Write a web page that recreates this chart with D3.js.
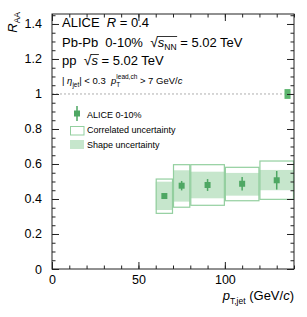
<!DOCTYPE html>
<html><head><meta charset="utf-8">
<script src="https://cdn.jsdelivr.net/npm/d3@7"></script>
<style>
body{margin:0;background:#fff;}
text{font-family:"Liberation Sans",Arial,Helvetica,sans-serif;fill:#000;}
</style></head>
<body><svg id="c" width="307" height="317"></svg>
<script>
// ---- data ----
const binLow   = [60, 70, 80, 100, 120];
const binHigh  = [70, 80, 100, 120, 140];
const raa      = [0.417, 0.476, 0.480, 0.487, 0.507];
const statErr  = [0.010, 0.027, 0.034, 0.038, 0.053];
const corrLow  = [0.318, 0.353, 0.364, 0.390, 0.398];
const corrHigh = [0.514, 0.596, 0.596, 0.581, 0.617];
const shapeLow = [0.337, 0.385, 0.404, 0.419, 0.450];
const shapeHigh= [0.499, 0.564, 0.556, 0.549, 0.566];
const normBox  = {x0: 134.5, x1: 138, lo: 0.972, hi: 1.028};
const xTicks = [0, 50, 100];
const yTicks = [0, 0.2, 0.4, 0.6, 0.8, 1, 1.2, 1.4];
const yTickLabels = ["0", "0.2", "0.4", "0.6", "0.8", "1", "1.2", "1.4"];

const cMarker = "#4ea763", cCorr = "#93cf9f", cShape = "#c6e6cc", cNorm = "#5cb56e";

const svg = d3.select("#c");
const L = 52, R = 294, T = 14, B = 269;
const x = d3.scaleLinear().domain([0, 140]).range([L, R]);
const y = d3.scaleLinear().domain([0, 1.457]).range([B, T]);

// shape uncertainty
const idx = d3.range(raa.length);
svg.append("g").selectAll("rect").data(idx).join("rect")
  .attr("x", i => x(binLow[i])).attr("width", i => x(binHigh[i]) - x(binLow[i]))
  .attr("y", i => y(shapeHigh[i])).attr("height", i => y(shapeLow[i]) - y(shapeHigh[i]))
  .attr("fill", cShape);
// correlated uncertainty
svg.append("g").selectAll("rect").data(idx).join("rect")
  .attr("x", i => x(binLow[i]) + 0.5).attr("width", i => x(binHigh[i]) - x(binLow[i]) - 1)
  .attr("y", i => y(corrHigh[i])).attr("height", i => y(corrLow[i]) - y(corrHigh[i]))
  .attr("fill", "none").attr("stroke", cCorr).attr("stroke-width", 1.2);

// dashed line at 1
svg.append("line").attr("x1", x(0)).attr("x2", x(normBox.x0)).attr("y1", y(1)).attr("y2", y(1))
  .attr("stroke", "#999").attr("stroke-width", 0.8).attr("stroke-dasharray", "2,2");
// normalisation box
svg.append("rect").attr("x", x(normBox.x0)).attr("width", x(normBox.x1) - x(normBox.x0))
  .attr("y", y(normBox.hi)).attr("height", y(normBox.lo) - y(normBox.hi)).attr("fill", cNorm);

// stat errors + markers
const mid = i => (binLow[i] + binHigh[i]) / 2;
svg.append("g").selectAll("line").data(idx).join("line")
  .attr("x1", i => x(mid(i))).attr("x2", i => x(mid(i)))
  .attr("y1", i => y(raa[i] - statErr[i])).attr("y2", i => y(raa[i] + statErr[i]))
  .attr("stroke", cMarker).attr("stroke-width", 1.5);
svg.append("g").selectAll("rect").data(idx).join("rect")
  .attr("x", i => x(mid(i)) - 3).attr("y", i => y(raa[i]) - 3)
  .attr("width", 6).attr("height", 6).attr("fill", cMarker);

// axes
const axCol = "#222";
function styleAxis(g){ g.select(".domain").remove(); g.selectAll("line").attr("stroke", axCol).attr("stroke-width", 1); g.selectAll("text").attr("font-size", 12.5).attr("font-family", "Liberation Sans, Arial, sans-serif").attr("fill", "#000"); }
const xMinor = d3.range(0, 141, 10), yMinor = d3.range(0, 1.451, 0.05);
// bottom
svg.append("g").attr("transform", `translate(0,${B})`)
  .call(d3.axisBottom(x).tickValues(xMinor).tickSize(-3.5).tickFormat("")).call(styleAxis);
svg.append("g").attr("transform", `translate(0,${B})`)
  .call(d3.axisBottom(x).tickValues(xTicks).tickSize(-7).tickPadding(6).tickFormat(d3.format("d"))).call(styleAxis);
// top
svg.append("g").attr("transform", `translate(0,${T})`)
  .call(d3.axisTop(x).tickValues(xMinor).tickSize(-3.5).tickFormat("")).call(styleAxis);
svg.append("g").attr("transform", `translate(0,${T})`)
  .call(d3.axisTop(x).tickValues(xTicks).tickSize(-7).tickFormat("")).call(styleAxis);
// left
svg.append("g").attr("transform", `translate(${L},0)`)
  .call(d3.axisLeft(y).tickValues(yMinor).tickSize(-3.5).tickFormat("")).call(styleAxis);
svg.append("g").attr("transform", `translate(${L},0)`)
  .call(d3.axisLeft(y).tickValues(yTicks).tickSize(-7).tickPadding(10).tickFormat((d, i) => yTickLabels[i])).call(styleAxis);
// right
svg.append("g").attr("transform", `translate(${R},0)`)
  .call(d3.axisRight(y).tickValues(yMinor).tickSize(-3.5).tickFormat("")).call(styleAxis);
svg.append("g").attr("transform", `translate(${R},0)`)
  .call(d3.axisRight(y).tickValues(yTicks).tickSize(-7).tickFormat("")).call(styleAxis);
// frame
svg.append("rect").attr("x", L).attr("y", T).attr("width", R - L).attr("height", B - T)
  .attr("fill", "none").attr("stroke", axCol).attr("stroke-width", 1);

// axis titles
const yt = svg.append("text").attr("transform", `translate(17,12) rotate(-90)`).attr("text-anchor", "end").attr("font-size", 13);
yt.append("tspan").attr("font-style", "italic").text("R");
yt.append("tspan").attr("font-size", 8.5).attr("dy", 3).text("AA");

const xt = svg.append("text").attr("x", R).attr("y", 300).attr("text-anchor", "end").attr("font-size", 13);
xt.append("tspan").attr("font-style", "italic").text("p");
xt.append("tspan").attr("font-size", 8.5).attr("dy", 4).text("T,jet");
xt.append("tspan").attr("dy", -4).text(" (GeV/");
xt.append("tspan").attr("font-style", "italic").text("c");
xt.append("tspan").text(")");

// annotation text
const tx = 62;
const t1 = svg.append("text").attr("x", tx).attr("y", 27).attr("font-size", 13).attr("xml:space", "preserve");
t1.append("tspan").text("ALICE  ");
t1.append("tspan").attr("font-style", "italic").text("R");
t1.append("tspan").text(" = 0.4");

function sqrtLine(yb, pre, sub, post){
  const t = svg.append("text").attr("x", tx).attr("y", yb).attr("font-size", 13).attr("xml:space", "preserve");
  t.append("tspan").text(pre);
  const sq = t.append("tspan").attr("font-size", 14).text("\u221A");
  const s = t.append("tspan").attr("font-style", "italic").text("s");
  let subT = null;
  if (sub) subT = t.append("tspan").attr("font-size", 8.5).attr("dy", 3).text(sub);
  const p = t.append("tspan").attr("dy", sub ? -3 : 0).text(post);
  const b0 = sq.node().getBBox();
  const b1 = (subT || s).node().getBBox();
  svg.append("line").attr("x1", b0.x + b0.width - 0.8).attr("x2", b1.x + b1.width + 0.5)
    .attr("y1", yb - 10.5).attr("y2", yb - 10.5).attr("stroke", "#000").attr("stroke-width", 0.8);
}
sqrtLine(47, "Pb-Pb  0-10%  ", "NN", " = 5.02 TeV");
sqrtLine(65, "pp  ", null, " = 5.02 TeV");

const t4 = svg.append("text").attr("x", tx).attr("y", 84).attr("font-size", 9.5).attr("xml:space", "preserve");
t4.append("tspan").text("|");
t4.append("tspan").attr("font-style", "italic").text(" \u03B7");
t4.append("tspan").attr("font-size", 6.5).attr("dy", 3).text("jet");
t4.append("tspan").attr("dy", -3).text("| < 0.3  ");
t4.append("tspan").attr("font-style", "italic").text("p");
t4.append("tspan").attr("font-size", 6.5).attr("dy", 3).text("T");
t4.append("tspan").attr("font-size", 6.5).attr("dy", -8).attr("dx", -4).text("lead,ch");
t4.append("tspan").attr("dy", 5).text(" > 7 GeV/");
t4.append("tspan").attr("font-style", "italic").text("c");

// legend
const lg = svg.append("g");
lg.append("line").attr("x1", 77).attr("x2", 77).attr("y1", 106).attr("y2", 121).attr("stroke", cMarker).attr("stroke-width", 1.5);
lg.append("rect").attr("x", 74).attr("y", 110.5).attr("width", 6).attr("height", 6).attr("fill", cMarker);
lg.append("rect").attr("x", 70.5).attr("y", 126.5).attr("width", 13.5).attr("height", 8.5).attr("fill", "none").attr("stroke", cCorr).attr("stroke-width", 1);
lg.append("rect").attr("x", 70).attr("y", 140).attr("width", 14).attr("height", 9).attr("fill", cShape);
const legText = ["ALICE 0-10%", "Correlated uncertainty", "Shape uncertainty"];
lg.selectAll("text").data(legText).join("text")
  .attr("x", 87).attr("y", (d, i) => 117.5 + i * 15).attr("font-size", 9).text(d => d);
</script></body></html>
